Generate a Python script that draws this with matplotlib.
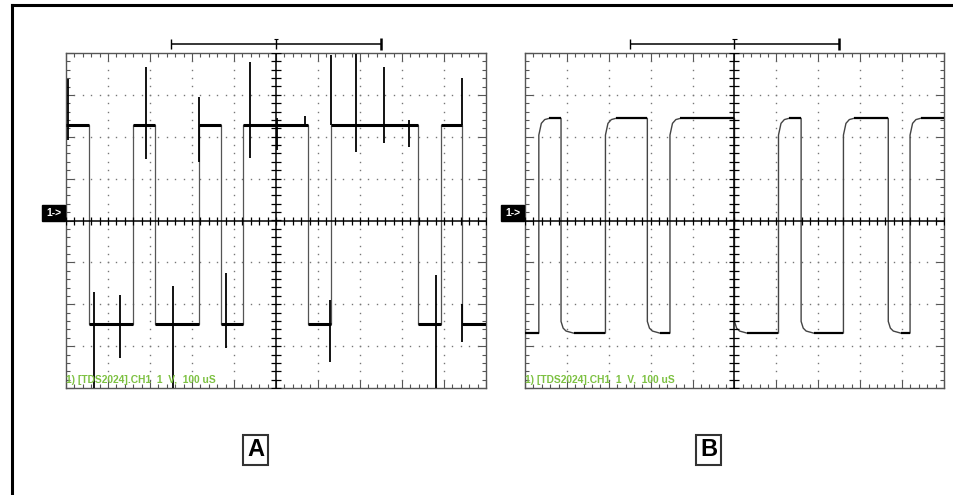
import numpy as np
import matplotlib.pyplot as plt
from matplotlib.patches import Rectangle
from matplotlib.lines import Line2D
from matplotlib.ticker import MultipleLocator

# screen is 10 x 8 divisions, values below are in divisions
# trace A (noisy, with spikes)
a_edges = [0.55, 1.60, 2.12, 3.17, 3.70, 4.22, 5.75, 6.31, 8.37, 8.92, 9.43]
a_high, a_low = 2.28, -2.47
a_start_high = True
a_spike_t = [0.04, 1.90, 3.16, 4.39, 5.02, 5.69, 6.32, 6.90, 7.57, 8.17, 9.42,
             0.67, 1.29, 2.55, 3.80, 6.29, 8.81, 9.44]
a_spike_top = [3.38, 3.67, 2.95, 3.79, 2.45, 2.49, 3.95, 3.97, 3.67, 2.40, 3.40,
               -1.70, -1.78, -1.56, -1.25, -1.90, -1.30, -2.00]
a_spike_bot = [1.92, 1.48, 1.40, 1.49, 1.68, 2.28, 2.28, 1.64, 1.85, 1.76, 2.28,
               -4.00, -3.28, -4.00, -3.04, -3.37, -4.00, -2.90]

# trace B (clean, rounded corners)
b_edges = [0.33, 0.86, 1.92, 2.92, 3.46, 5.00, 6.05, 6.59, 7.60, 8.67, 9.19]
b_high, b_low = 2.44, -2.69
b_start_high = False
b_rise_dt = [0.0, 0.06, 0.14, 0.25]
b_rise_dv = [-0.40, -0.12, -0.03, 0.0]
b_fall_dt = [0.0, 0.05, 0.12, 0.30]
b_fall_dv = [0.28, 0.12, 0.05, 0.0]

label_text = '1) [TDS2024].CH1  1  V,  100 uS'
panel_names = ['A', 'B']


def square(edges, hi, lo, start_high, rise=None, fall=None):
    lvl = start_high
    xs, ys = [0.0], [hi if lvl else lo]
    for t in edges:
        xs.append(t)
        ys.append(hi if lvl else lo)
        shape = fall if lvl else rise
        new = lo if lvl else hi
        if shape is None:
            xs.append(t)
            ys.append(new)
        else:
            for dt, dv in zip(*shape):
                xs.append(t + dt)
                ys.append(new + dv)
        lvl = not lvl
    xs.append(10.0)
    ys.append(hi if lvl else lo)
    return xs, ys


def levels(ax, edges, hi, lo, start_high, lw, rise_s=0.0, fall_s=0.0):
    # flat tops / bottoms drawn a bit heavier, like the trace noise band
    lvl = start_high
    bounds = [0.0] + edges + [10.0]
    for i, (t0, t1) in enumerate(zip(bounds[:-1], bounds[1:])):
        s = 0.0 if i == 0 else (rise_s if lvl else fall_s)
        ax.plot([t0 + s, t1], [hi if lvl else lo] * 2, color='k', lw=lw,
                zorder=3, solid_capstyle='butt')
        lvl = not lvl


def scope_screen(ax):
    ax.set_xlim(0, 10)
    ax.set_ylim(-4, 4)
    ax.set_xticks(range(11))
    ax.set_yticks(range(-4, 5))
    ax.xaxis.set_minor_locator(MultipleLocator(0.2))
    ax.yaxis.set_minor_locator(MultipleLocator(0.2))
    ax.tick_params(which='both', direction='in', top=True, right=True,
                   labelbottom=False, labelleft=False, color='#555', width=0.8)
    ax.tick_params(which='major', length=6)
    ax.tick_params(which='minor', length=3)
    for s in ax.spines.values():
        s.set_color('#555')
        s.set_linewidth(1.0)

    fine = np.arange(0, 10.01, 0.2)
    fine_y = np.arange(-4, 4.01, 0.2)
    for gx in [1, 2, 3, 4, 6, 7, 8, 9]:
        ax.plot(np.full_like(fine_y, gx), fine_y, ls='none', marker='s',
                ms=1.0, mew=0, color='#777', zorder=1)
    for gy in [-3, -2, -1, 1, 2, 3]:
        ax.plot(fine, np.full_like(fine, gy), ls='none', marker='s',
                ms=1.0, mew=0, color='#777', zorder=1)

    # centre graticule with fine ticks
    ax.axhline(0, color='k', lw=1.1, zorder=4)
    ax.axvline(5, color='k', lw=1.1, zorder=4)
    ax.plot(fine, np.zeros_like(fine), ls='none', marker='|', ms=6,
            mew=0.9, color='k', zorder=4)
    ax.plot(np.full_like(fine_y, 5), fine_y, ls='none', marker='_', ms=7,
            mew=0.9, color='k', zorder=4)

    # trigger window bracket above the screen
    yb = 4.215
    kw = dict(color='k', clip_on=False, solid_capstyle='butt')
    ax.plot([2.5, 7.5], [yb, yb], lw=1.1, **kw)
    ax.plot([2.5, 2.5], [yb - 0.12, yb + 0.12], lw=1.0, **kw)
    ax.plot([7.5, 7.5], [yb - 0.14, yb + 0.14], lw=1.8, **kw)
    ax.plot([5.0, 5.0], [yb - 0.12, yb + 0.12], lw=1.0, **kw)
    ax.plot([4.95, 5.05], [yb + 0.12, yb + 0.12], lw=0.8, **kw)

    # channel marker
    ax.add_patch(Rectangle((-0.57, 0.0), 0.55, 0.36, color='k',
                           clip_on=False, zorder=5))
    ax.text(-0.295, 0.18, '1->', color='white', fontsize=7.5,
            fontweight='bold', ha='center', va='center', clip_on=False,
            family='Liberation Sans', zorder=6)

    ax.text(0.0, -3.93, label_text, color='#7dc142', fontsize=7.4,
            fontweight='bold', family='Liberation Sans', ha='left',
            va='bottom', zorder=6)


fig = plt.figure(figsize=(9.54, 4.95), dpi=100)
fig.patch.set_facecolor('white')

ax_a = fig.add_axes([66 / 954, 1 - 388 / 495, 420 / 954, 335 / 495])
ax_b = fig.add_axes([525 / 954, 1 - 388 / 495, 419 / 954, 335 / 495])

for ax in (ax_a, ax_b):
    scope_screen(ax)

# trace A
xa, ya = square(a_edges, a_high, a_low, a_start_high)
ax_a.plot(xa, ya, color='#555', lw=0.9, zorder=3)
levels(ax_a, a_edges, a_high, a_low, a_start_high, lw=2.2)
ax_a.vlines(a_spike_t, a_spike_bot, a_spike_top, color='k', lw=1.3, zorder=3)

# trace B
xb, yb = square(b_edges, b_high, b_low, b_start_high,
                rise=(b_rise_dt, b_rise_dv), fall=(b_fall_dt, b_fall_dv))
ax_b.plot(xb, yb, color='#444', lw=1.0, zorder=3)
levels(ax_b, b_edges, b_high, b_low, b_start_high, lw=1.6,
       rise_s=b_rise_dt[-1], fall_s=b_fall_dt[-1])

# panel letters
for name, cx in zip(panel_names, [255.5 / 954, 708.5 / 954]):
    fig.text(cx, 1 - 450 / 495, name, fontsize=17, fontweight='bold',
             family='Liberation Sans', ha='center', va='center',
             bbox=dict(boxstyle='square,pad=0.15', fc='white', ec='#333',
                       lw=1.5))

# outer frame (left and top edges)
fig.add_artist(Line2D([12 / 954, 12 / 954], [0, 1 - 5 / 495],
                      color='k', lw=2.2, transform=fig.transFigure))
fig.add_artist(Line2D([12 / 954, 1], [1 - 5 / 495, 1 - 5 / 495],
                      color='k', lw=2.2, transform=fig.transFigure))

fig.savefig('out.png', dpi=100)
